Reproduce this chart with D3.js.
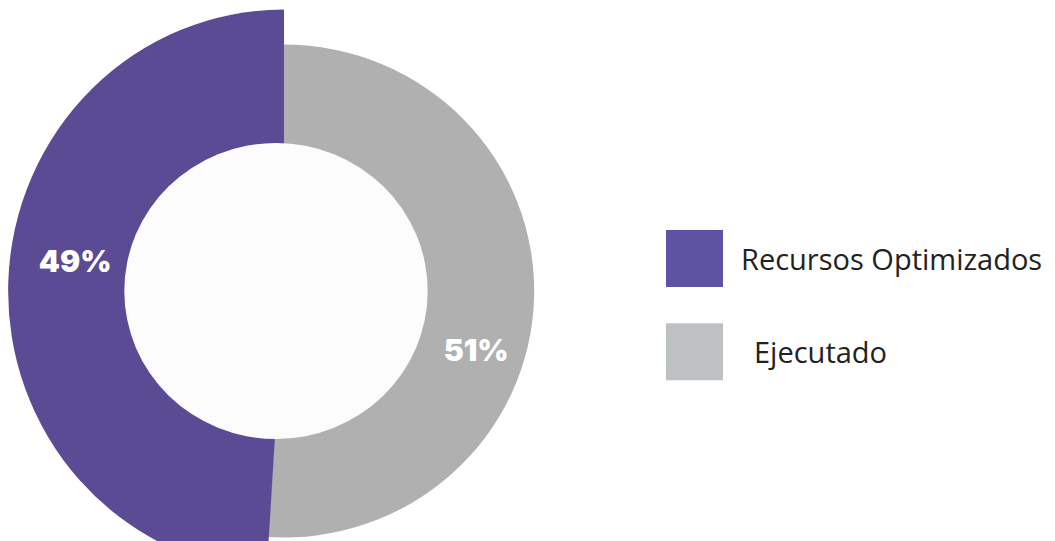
<!DOCTYPE html>
<html>
<head>
<meta charset="utf-8">
<script src="https://cdn.jsdelivr.net/npm/d3@7"></script>
<style>
  html, body { margin: 0; padding: 0; background: #ffffff; }
  svg { display: block; }
</style>
</head>
<body>
<svg id="chart" width="1055" height="541"></svg>
<script>
// Budget split: optimized resources vs executed
const categories = ["Recursos Optimizados", "Ejecutado"];
const values = [49, 51];
const labels = ["49%", "51%"];
const legendLabels = ["Recursos Optimizados", "Ejecutado"];

const sliceColors = ["#5b4b94", "#b0b0b0"];
const legendColors = ["#5e53a3", "#bec1c1"];

const svg = d3.select("#chart");
const cx = 284, cy = 291;

// Each slice has its own outer radius (and a slight horizontal squash/stretch)
const outerR = [281.5, 246.5];
const xScaleBySlice = [0.98, 1.015];

const rows = categories.map((c, i) => ({ name: c, value: values[i], label: labels[i], i }));

// Ejecutado runs clockwise from 12 o'clock, Recursos fills the rest
const pie = d3.pie().sort(null).value(d => d.value);
const arcs = pie(rows.slice().reverse());

const g = svg.append("g").attr("transform", `translate(${cx},${cy})`);

g.selectAll("path.slice")
  .data(arcs)
  .join("path")
  .attr("class", "slice")
  .attr("transform", d => `scale(${xScaleBySlice[d.data.i]},1)`)
  .attr("fill", d => sliceColors[d.data.i])
  .attr("d", d => d3.arc().innerRadius(0).outerRadius(outerR[d.data.i])(d));

// Hole in the middle
svg.append("ellipse")
  .attr("cx", cx - 8)
  .attr("cy", cy)
  .attr("rx", 151.7)
  .attr("ry", 148)
  .attr("fill", "#fcfcfc");

// Percentage labels, placed along each ring
const labelPos = [
  { r: 211, shift: 6.4 },
  { r: 201, shift: 15.3 }
];
arcs.forEach(d => {
  const p = labelPos[d.data.i];
  const a = (d.startAngle + d.endAngle) / 2 + p.shift * Math.PI / 180;
  const x = cx + p.r * Math.sin(a);
  const y = cy - p.r * Math.cos(a);
  svg.append("text")
    .attr("x", x)
    .attr("y", y + 11)
    .attr("text-anchor", "middle")
    .attr("fill", "#ffffff")
    .attr("font-family", "Inter, 'Open Sans', sans-serif")
    .attr("font-weight", 900)
    .attr("font-size", 30)
    .text(d.data.label);
});

// Legend
const legend = svg.append("g");
const legY = [230, 323.3];
const legTextX = [741, 754];
rows.forEach((d, i) => {
  legend.append("rect")
    .attr("x", 666)
    .attr("y", legY[i])
    .attr("width", 57)
    .attr("height", 57)
    .attr("fill", legendColors[i]);
  legend.append("text")
    .attr("x", legTextX[i])
    .attr("y", legY[i] + 40)
    .attr("fill", "#222222")
    .attr("font-family", "'Open Sans', 'Noto Sans', sans-serif")
    .attr("font-size", 29)
    .text(legendLabels[i]);
});
</script>
</body>
</html>
